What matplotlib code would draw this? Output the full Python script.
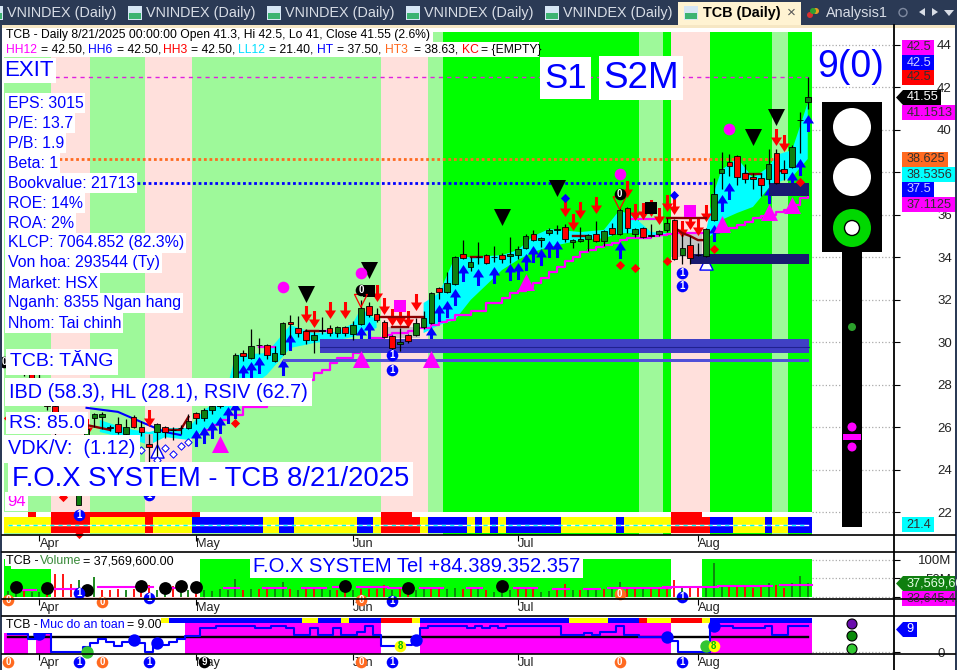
import numpy as np
import matplotlib
matplotlib.use('Agg')
import matplotlib.pyplot as plt
from matplotlib.patches import Rectangle, Circle, Polygon
from matplotlib.path import Path

plt.rcParams['font.family'] = ['Liberation Sans', 'DejaVu Sans']

W, H = 957, 670

# nen: (thanh bat dau, mau), thanh cuoi = 103
band_start = [0, 6, 11, 18, 24, 48, 54, 56, 81, 84, 85, 90, 98, 100]
band_kind = ['l', 'p', 'l', 'p', 'l', 'p', 'l', 'g', 'l', 'g', 'p', 'g', 'l', 'g']
strip_start = [0, 6, 11, 18, 19, 24, 33, 35, 37, 45, 47, 48, 53, 54, 59, 60, 61, 62, 63, 64, 71, 78, 79, 85, 90, 93, 97, 98, 100]
strip_kind = 'YRYRYBYBYBYRYBYBYBYBYBYRBYBYB'
red_top = [(3, 4), (6, 25), (48, 52), (85, 89)]

month_pos = [4, 24, 44, 65, 88]
month_names = ['Apr', 'May', 'Jun', 'Jul', 'Aug']
price_ticks = [22, 24, 26, 28, 30, 32, 34, 36, 38, 40, 42, 44]

# (than tren, than duoi, cao, thap, mau)
candles = [
    ('r', 29.3, 29.0, 29.6, 28.8), ('g', 29.2, 28.9, 29.5, 28.7), ('r', 29.0, 28.6, 29.2, 28.4), ('r', 28.6, 28.2, 28.8, 28.0),
    ('r', 28.3, 27.8, 28.5, 27.6), ('r', 27.8, 27.0, 28.0, 26.8), ('r', 27.0, 25.8, 27.1, 25.5), ('r', 24.8, 23.2, 25.0, 23.0),
    ('r', 24.9, 23.6, 25.1, 23.4), ('g', 24.2, 22.33, 24.4, 22.33), ('g', 25.9, 24.6, 26.0, 24.5), ('g', 26.6, 26.45, 26.65, 26.0),
    ('g', 26.6, 26.5, 26.7, 25.9), ('r', 26.0, 25.95, 26.1, 25.8), ('r', 26.15, 25.75, 26.5, 25.7), ('g', 26.0, 25.7, 26.4, 25.5),
    ('r', 26.5, 26.0, 26.55, 25.95), ('r', 26.0, 25.75, 26.3, 25.6), ('r', 25.2, 25.05, 25.7, 23.9), ('g', 26.15, 25.75, 26.2, 24.0),
    ('r', 26.0, 25.75, 26.05, 25.5), ('k', 25.85, 25.85, 26.0, 25.4), ('k', 25.95, 25.95, 26.1, 25.7), ('g', 26.3, 25.95, 26.6, 25.9),
    ('r', 26.65, 26.45, 26.7, 26.15), ('g', 26.8, 26.45, 26.9, 26.3), ('g', 27.0, 26.8, 27.2, 26.6), ('g', 27.4, 27.0, 27.6, 26.9),
    ('g', 27.9, 27.4, 28.0, 27.3), ('g', 29.4, 27.8, 29.5, 27.7), ('r', 29.5, 29.35, 29.65, 29.1), ('g', 29.8, 29.25, 30.6, 29.2),
    ('k', 29.85, 29.85, 30.2, 29.45), ('r', 29.85, 29.4, 29.9, 29.2), ('g', 29.5, 29.1, 29.8, 29.05), ('g', 30.9, 29.45, 30.95, 29.4),
    ('r', 30.95, 30.85, 31.3, 30.2), ('r', 30.65, 30.45, 31.25, 30.25), ('r', 30.55, 30.1, 30.6, 29.9), ('g', 30.35, 30.1, 30.55, 29.5),
    ('k', 30.55, 30.55, 31.2, 30.4), ('r', 30.65, 30.45, 30.8, 30.3), ('g', 30.7, 30.45, 30.75, 30.25), ('r', 30.7, 30.45, 30.75, 30.3),
    ('g', 30.8, 30.4, 31.0, 30.1), ('g', 31.6, 30.85, 32.0, 30.8), ('r', 31.7, 31.3, 31.9, 31.2), ('r', 31.35, 31.05, 31.6, 30.95),
    ('r', 30.95, 30.25, 31.05, 30.2), ('r', 30.3, 29.75, 30.35, 29.5), ('g', 30.0, 29.9, 30.65, 29.6), ('r', 30.35, 30.05, 30.4, 29.95),
    ('g', 30.9, 30.35, 31.15, 30.3), ('g', 31.15, 30.7, 31.45, 30.6), ('g', 32.3, 30.9, 32.35, 30.85), ('r', 32.55, 32.35, 32.6, 32.05),
    ('g', 32.8, 32.35, 33.3, 32.3), ('g', 34.0, 32.75, 34.05, 32.7), ('r', 34.15, 33.95, 34.8, 33.9), ('g', 33.8, 33.55, 34.0, 33.35),
    ('k', 34.0, 34.0, 34.7, 33.7), ('r', 34.1, 33.75, 34.15, 33.7), ('k', 34.0, 34.0, 34.55, 33.8), ('r', 34.1, 33.9, 34.2, 33.75),
    ('g', 34.15, 34.05, 34.95, 33.75), ('g', 34.4, 34.1, 34.55, 33.9), ('g', 35.0, 34.45, 35.1, 34.4), ('r', 35.1, 34.8, 35.3, 34.75),
    ('g', 34.9, 34.8, 34.95, 34.5), ('g', 35.3, 35.15, 35.4, 35.05), ('k', 35.3, 35.3, 35.5, 35.1), ('r', 35.45, 34.85, 35.55, 34.7),
    ('g', 34.8, 34.7, 34.85, 34.45), ('g', 34.85, 34.75, 35.45, 34.7), ('g', 35.05, 34.85, 35.1, 34.3), ('r', 35.1, 34.75, 35.7, 34.7),
    ('g', 35.25, 34.75, 35.3, 34.55), ('r', 35.4, 35.1, 35.6, 35.05), ('g', 36.25, 35.1, 36.3, 35.05), ('r', 36.3, 35.4, 36.35, 35.15),
    ('g', 35.35, 35.1, 35.4, 34.95), ('r', 35.4, 34.95, 35.45, 34.9), ('k', 35.0, 35.0, 35.55, 34.95), ('g', 35.25, 35.1, 35.3, 35.0),
    ('g', 35.6, 35.3, 35.85, 35.2), ('r', 35.75, 33.9, 35.8, 33.85), ('g', 34.45, 34.1, 35.1, 33.7), ('r', 34.6, 33.95, 35.0, 33.7),
    ('k', 34.1, 34.1, 34.65, 34.05), ('g', 35.35, 34.05, 35.4, 34.0), ('g', 37.0, 35.75, 37.75, 35.7), ('g', 38.15, 37.95, 38.95, 37.2),
    ('r', 38.5, 38.3, 38.85, 37.85), ('r', 38.75, 37.8, 38.8, 37.4), ('r', 37.95, 37.7, 38.4, 37.5), ('r', 37.8, 37.7, 37.95, 37.2),
    ('r', 37.75, 37.4, 37.95, 36.9), ('g', 38.4, 37.7, 39.1, 37.45), ('r', 38.9, 37.5, 39.1, 37.45), ('r', 38.18, 37.95, 38.6, 37.65),
    ('g', 39.18, 38.23, 39.3, 38.2), ('k', 40.45, 40.45, 40.83, 38.9), ('g', 41.55, 41.3, 42.5, 41.0),
]

cloud_x = [11.7, 13.6, 16, 18, 20, 23, 25, 27.7, 29, 33, 36, 39, 42, 44, 45, 47, 48, 53, 55, 57, 59, 63, 65, 67, 69, 73, 76, 78, 80, 82, 84, 85, 89, 90, 91, 93, 95, 97, 98, 100, 102]
cloud_top = [26.34, 26.1, 25.87, 25.77, 25.96, 25.96, 26.8, 27.5, 29.4, 29.49, 30.81, 30.43, 30.48, 30.9, 31.6, 31.05, np.nan, 31.85, 32.32, 34.01, 34.01, 34.1, 34.34, 35.0, 35.33, 35.19, 35.29, 36.23, 35.85, 35.19, 35.14, np.nan, 35.19, 37.03, 38.11, 38.68, 37.74, 38.25, 38.82, 39.05, 41.27]
cloud_bot = [25.77, 25.6, 25.4, 25.16, 25.53, 25.4, 25.87, 26.34, 27.37, 28.46, 29.73, 29.96, 30.1, 30.25, 30.43, 30.67, np.nan, 30.43, 30.81, 31.05, 31.99, 33.4, 33.87, 34.25, 34.49, 34.81, 34.9, 35.14, 35.14, 35.0, 35.0, np.nan, 34.81, 35.14, 35.76, 36.09, 36.37, 37.26, 37.5, 37.78, 38.63]

grey_x = [[17.5, 18.5], [48, 52.5], [84.5, 88.5]]
grey_top = [25.7, 30.72, 35.14]
grey_bot = [25.0, 30.2, 34.0]

ma_x = [25, 26, 27, 28, 30, 33, 36, 38] + list(range(39, 103))
ma_y = [25.87, 26.1, 26.34, 26.57, 26.95, 27.04, 27.37, 28.2,
        28.55, 28.69, 29.02, 29.26, 29.26, 29.49, 29.63, 30.2, 30.2, 30.34, 30.43, 30.43, 30.53, 30.67, 30.67, 30.81,
        30.95, 31.05, 31.28, 31.28, 31.47, 31.47, 31.85, 31.85, 32.08, 32.32, 32.41, 32.6, 32.79, 33.03, 33.31, 33.54,
        33.83, 34.01, 34.25, 34.34, 34.49, 34.58, 34.67, 34.81, 34.91, 34.91, 34.91, 35.0, 35.05, 35.1, 35.14, 35.14,
        35.14, 35.14, 35.19, 35.19, 35.29, 35.38, 35.52, 35.66, 35.85, 35.95, 36.0, 36.13, 36.23, 36.46, 36.79, 36.84]

darkred_lines = [
    ([10, 13], [26.1, 25.87]), ([20, 22, 23], [25.87, 25.87, 26.48]), ([38, 39.5], [30.53, 30.53]),
    ([47, 53], [31.19, 31.19]), ([49, 51], [30.72, 30.72]), ([59, 60.5], [34.01, 34.01]), ([72, 74], [35.0, 35.0]),
    ([84, 89], [35.85, 35.85]), ([85, 86, 87, 88, 89], [35.4, 35.14, 35.0, 34.81, 34.81]), ([94, 96], [37.92, 37.92]), ([98, 99], [38.06, 38.06]),
]
magenta_lines = [([32, 34], [29.77, 29.77]), ([38, 41], [30.55, 30.55]), ([79, 83], [35.8, 35.8])]
blue_line_x = [10, 14, 17, 20, 22]
blue_line_y = [26.91, 26.72, 26.24, 25.77, 25.63]

up_x = [24, 25, 26, 27, 28, 29, 30, 31, 32, 35, 36, 45, 46, 54, 55, 56, 57, 58, 60, 62, 64, 65, 66, 67, 68, 69, 70, 78, 90, 91, 92, 97, 100, 101, 102]
up_y = [25.49, 25.63, 25.87, 26.1, 26.57, 26.81, 28.55, 28.69, 28.93, 28.83, 30.01, 30.34, 30.58, 30.34, 31.38, 31.56, 32.13, 33.26, 33.07, 33.17, 33.31, 33.35, 33.78, 34.16, 34.01, 34.39, 34.39, 34.34, 35.14, 36.56, 37.12, 36.93, 37.64, 38.25, 40.33]
down_x = [10, 18, 38, 39, 41, 43, 47, 48, 49, 50, 51, 52, 71, 72, 73, 75, 79, 80, 81, 82, 83, 84, 85, 86, 87, 88, 89, 98, 99]
down_y = [26.01, 26.43, 31.33, 31.09, 31.52, 31.52, 32.32, 31.71, 31.19, 31.19, 31.09, 31.89, 36.32, 35.66, 36.23, 36.46, 37.22, 36.13, 36.18, 36.32, 35.95, 36.56, 36.42, 35.33, 35.71, 35.43, 36.09, 39.67, 39.38]
red_dia_x = [0, 7, 9, 29, 78, 80, 84, 90, 101]
red_dia_y = [26.43, 22.71, 20.95, 26.19, 33.64, 33.5, 33.83, 34.39, 37.55]
blue_dia_x = [71, 85]
blue_dia_y = [36.79, 36.93]
hollow_dia_x = [17, 19, 20, 21, 22, 23]
hollow_dia_y = [24.92, 24.45, 25.02, 24.73, 25.11, 25.3]
hollow_tri_x = [19, 89]
hollow_tri_y = [24.88, 33.73]
mag_tri_x = [27, 45, 54, 66, 91, 97, 100]
mag_tri_y = [25.21, 29.21, 29.21, 32.84, 35.57, 36.13, 36.46]
blk_tri_x = [38, 46, 63, 70, 95, 98]
blk_tri_y = [32.27, 33.4, 35.9, 37.26, 39.67, 40.61]
mag_dot_x = [35, 45, 78, 92]
mag_dot_y = [32.6, 33.26, 37.92, 40.04]
mag_sq_x = [50, 87]
mag_sq_y = [31.71, 36.18]
blk_sq_x = [46, 82]
blk_sq_y = [32.41, 36.32]
red_v_x = [45, 78]
red_v_y = [31.95, 36.55]

badge_price = [(-0.5, 29.07, '0', 'k'), (45, 32.46, '0', 'k'), (78, 36.98, '0', 'k'), (9, 21.86, '1', 'b'), (18, 22.8, '1', 'b'),
               (49, 29.4, '1', 'b'), (49, 28.69, '1', 'b'), (86, 33.26, '1', 'b'), (86, 32.65, '1', 'b')]

volume = [16, 18, 18, 13.5, 13.5, 9, 63, 63, 36, 45, 18, 54, 18, 18, 21, 18, 21, 18, 33, 18,
          13.5, 30, 18, 18, 18, 18, 15, 22.5, 18, 49.5, 18, 22.5, 22.5, 22.5, 22.5, 40, 22.5, 18, 22.5, 22.5,
          22.5, 18, 18, 13.5, 18, 22.5, 22.5, 22.5, 31.5, 18, 22.5, 13.5, 18, 24, 24, 22.5, 22.5, 24, 21, 22.5,
          27, 18, 13.5, 18, 18, 22.5, 24, 24, 13.5, 15, 22.5, 36, 18, 18, 24, 22.5, 22.5, 21, 40.5, 22.5,
          27, 24, 22.5, 22.5, 22.5, 47, 31, 29, 24, 24, 92, 31, 33, 33, 29, 24, 33, 38, 33, 24, 38, 56, 37.6]
vol_col = 'ggrggrrrrg' 'rgrrrgrrrg' 'grggrggggg' 'rgrrggrgrr' 'ggrrgrrrrg' 'rrggrrggrr' 'grgggrrrgg' 'rrgrggrggr' 'rgrrrrgrrg' 'ggrrrrrgrr' 'ggg'
vol_avg = [(2, 3, 18), (6, 9, 21), (12, 18, 27), (21, 22, 24), (28, 29, 24), (33, 35, 24), (38, 40, 24), (42, 43, 27), (45, 46, 27), (47, 48, 27),
           (49, 50, 24), (53, 55, 24), (59, 60, 24), (65, 67, 24), (70, 71, 22), (74, 75, 21), (77, 84, 24), (84, 90, 27), (91, 97, 31), (99, 102, 33)]
vol_green = [(0, 6, 75), (25, 85, 103), (89, 103, 103)]
vol_dots_x = [1, 5, 10, 17, 20, 22, 24, 43, 51, 63]
vol_dots_y = [27, 24, 19, 30, 24, 30, 27, 30, 24, 30]
badge_vol = [(0, -8, '0', 'o'), (9, 11, '1', 'b'), (12, -13, '0', 'o'), (18, -3, '1', 'b'), (45, -8, '0', 'o'), (49, -11, '1', 'b'), (78, 8, '0', 'o'), (86, 0, '1', 'b')]

safety = [7, 7, 7, 5, 7.3, 7.3, 0.1, 0.1, 0.1, 0.1, 2, 3.4, 5, 4, 2.4, 4, 3.4, 3.4, 0.1, 2.7,
          2.7, 4, 5, 6.3, 6.3, 9.3, 9.3, 10, 10, 10, 10, 10, 9.3, 9.3, 10, 10, 9.3, 6.7, 6.7, 9.3,
          6.7, 6.7, 9.3, 6.7, 6.7, 8, 10, 6.7, 2.4, 2.4, 2.4, 2.7, 5, 9.3, 10, 10, 10, 10, 10, 9.3,
          10, 9.3, 10, 9.3, 10, 10, 10, 10, 10, 10, 10, 6.7, 6.7, 6.7, 7.5, 6.7, 7.8, 7.8, 10, 6.7,
          6.7, 6, 6, 6, 6, 4.5, 0.1, 0.1, 0.1, 0.1, 10.2, 10.2, 10.2, 9.3, 9.3, 9.3, 9.3, 10.2, 6.7, 6.7,
          10.2, 10.2, 10.2]
safe_zones = [(0, 3, 7.45), (4, 6, 7.45), (23, 48, 11.4), (53, 85, 11.4), (90, 103, 11.4)]
safe_strip_start = [20, 21, 38, 40, 43, 44, 48, 52, 53, 72, 77, 81, 82, 85, 89, 90]
safe_strip_kind = 'YBYBYBRYBYBRYRYB'
safe_end = 103
safe_blue_x = [4, 16, 19, 52, 84, 90]
safe_blue_y = [7, 4.7, 3.5, 4.7, 5.9, 10.2]
safe_green_x = [10, 89]
safe_green_y = [0, 2.4]
safe_yellow_x = [50, 90]
safe_yellow_y = [2.4, 2.4]
badge_safe = [(0, '0', 'o'), (9, '1', 'b'), (12, '0', 'o'), (18, '1', 'b'), (25, '9', 'k'), (45, '0', 'o'), (49, '1', 'b'), (78, '0', 'o'), (86, '1', 'b')]

COL = {'l': '#9ef99a', 'p': '#ffe0dc', 'g': '#00ff00', 'Y': '#ffff00', 'R': '#ff0000', 'B': '#0000ff'}
BLUE = '#0000ff'


def pane(top, bottom, ylim):
    ax = fig.add_axes([2 / W, 1 - bottom / H, 892 / W, (bottom - top) / H])
    ax.set_xlim(-0.78, 113)
    ax.set_ylim(*ylim)
    for s in ax.spines.values():
        s.set_visible(False)
    ax.patch.set_alpha(0)
    ax.set_xticks(month_pos)
    ax.set_xticklabels(month_names, ha='left', fontsize=9.2, color='#222222')
    ax.tick_params(axis='x', length=4, width=0.8, pad=-1.5)
    ax.yaxis.tick_right()
    return ax


def runs(ax, starts, kinds, end, bottom, top, zorder=0):
    edges = list(starts) + [end]
    for n, k in enumerate(kinds):
        ax.bar(edges[n] - 0.5, top - bottom, width=edges[n + 1] - edges[n], bottom=bottom, align='edge', color=COL[k], lw=0, zorder=zorder)


def badge(ax, x, y, txt, kind, zorder=8):
    col = {'b': BLUE, 'o': '#ff6a20', 'k': 'black', 'y': '#ffff00'}[kind]
    ax.scatter([x], [y], s=70, color=col, zorder=zorder, clip_on=False, linewidths=0)
    ax.text(x, y, txt, color='#00c000' if kind == 'y' else 'white', fontsize=7, fontweight='bold', ha='center', va='center', zorder=zorder + 1, clip_on=False)


up_arrow = Path([(-0.18, -1), (0.18, -1), (0.18, 0), (0.65, 0), (0, 1), (-0.65, 0), (-0.18, 0), (-0.18, -1)], closed=True)
down_arrow = Path([(-0.18, 1), (0.18, 1), (0.18, 0), (0.65, 0), (0, -1), (-0.65, 0), (-0.18, 0), (-0.18, 1)], closed=True)

fig = plt.figure(figsize=(W / 100, H / 100), dpi=100, facecolor='white')

# ---- gia ----
ax = pane(28, 535, (20.92, 44.8))
ax.set_yticks(price_ticks)
ax.set_yticklabels([str(t) for t in price_ticks], ha='left', fontsize=9.5, color='#222222')
ax.tick_params(axis='y', length=4, width=0.8, pad=27)
runs(ax, band_start, band_kind, 103, 20.9, 44.61)
ax.bar(-0.5, 0.23, width=103, bottom=21.77, align='edge', color='white', lw=0, zorder=0.2)
for a, b in red_top:
    ax.bar(a - 0.5, 0.23, width=b - a, bottom=21.77, align='edge', color=COL['R'], lw=0, zorder=0.3)
runs(ax, strip_start, strip_kind, 103, 21.01, 21.77, zorder=0.4)
ax.plot([0, 102], [21.39, 21.39], color='white', lw=1, zorder=0.5)
ax.plot([0, 102], [21.39, 21.39], color='#00ffff', lw=1, ls=(0, (3, 3)), zorder=0.6)
ax.hlines(price_ticks, 102.6, 113, color='#aaaaaa', lw=0.9, ls=':', zorder=0.1)

ax.fill_between(cloud_x, cloud_bot, cloud_top, color='#00ffff', lw=0, zorder=1)
for xs, t, b in zip(grey_x, grey_top, grey_bot):
    ax.fill_between(xs, b, t, color='#c4c4c4', lw=0, zorder=1)
ax.step(ma_x, ma_y, where='post', color='#ff00ff', lw=1.6, zorder=2)
for xs, ys in magenta_lines:
    ax.plot(xs, ys, color='#ff00ff', lw=1.6, zorder=2)
ax.plot(blue_line_x, blue_line_y, color=BLUE, lw=1.5, zorder=2)

ax.plot([6, 102], [42.5, 42.5], color='#e020e0', lw=1, ls=(0, (3, 3)), zorder=2)
ax.plot([6.5, 98.5], [38.625, 38.625], color='#ff6a20', lw=2, ls=(0, (1, 1)), zorder=2)
ax.plot([16.5, 90], [37.5, 37.5], color=BLUE, lw=2, ls=(0, (1, 1)), zorder=2)

ax.scatter(up_x, up_y, marker=up_arrow, s=150, color=BLUE, lw=0, zorder=3)
ax.scatter(down_x, down_y, marker=down_arrow, s=150, color='#ff0000', lw=0, zorder=3)

# vung ho tro
ax.bar(39.8, 0.66, width=62.3, bottom=29.49, align='edge', color='#4040c4', lw=0, zorder=4)
ax.plot([39.8, 102.1], [29.77, 29.77], color='#202090', lw=0.8, zorder=4)
ax.bar(35, 0.14, width=67.1, bottom=29.07, align='edge', color='#5050d8', lw=0, zorder=4)
ax.bar(87, 0.48, width=15.1, bottom=33.68, align='edge', color='#191970', lw=0, zorder=4)
ax.bar(97, 0.61, width=5.1, bottom=36.89, align='edge', color='#191970', lw=0, zorder=4)

ax.scatter(blk_sq_x, blk_sq_y, marker='s', s=75, color='black', lw=0, zorder=4.5)
for xs, ys in darkred_lines:
    ax.plot(xs, ys, color='#8b0000', lw=1.7, zorder=4.6)

# nen
for n, (c, t, b, hi, lo) in enumerate(candles):
    ax.vlines(n, lo, hi, color='black', lw=0.9, zorder=5)
    fc = {'g': '#0f7f0f', 'r': '#ff0000', 'k': 'black'}[c]
    ax.bar(n, max(t - b, 0.03), width=0.72, bottom=b, color=fc, edgecolor='black', lw=0.6, zorder=5.1)

ax.scatter(red_dia_x, red_dia_y, marker='D', s=22, color='#ff0000', lw=0, zorder=6, clip_on=False)
ax.scatter(blue_dia_x, blue_dia_y, marker='D', s=22, color=BLUE, lw=0, zorder=6)
ax.scatter(hollow_dia_x, hollow_dia_y, marker='D', s=14, facecolor='white', edgecolor=BLUE, lw=0.7, zorder=6)
ax.scatter(hollow_tri_x, hollow_tri_y, marker='^', s=90, facecolor='white', edgecolor=BLUE, lw=1, zorder=3.5)
ax.scatter(mag_tri_x, mag_tri_y, marker='^', s=150, color='#ff00ff', lw=0, zorder=6)
ax.scatter(blk_tri_x, blk_tri_y, marker='v', s=150, color='black', lw=0, zorder=6)
ax.scatter(mag_dot_x, mag_dot_y, marker='o', s=70, color='#ff00ff', lw=0, zorder=6)
ax.scatter(mag_sq_x, mag_sq_y, marker='s', s=80, color='#ff00ff', lw=0, zorder=4.7)
ax.scatter(red_v_x, red_v_y, marker='v', s=85, facecolor='none', edgecolor='#ff0000', lw=0.9, zorder=6)
for x, y, t, k in badge_price:
    badge(ax, x, y, t, k)

# ---- khoi luong ----
av = pane(552, 599, (-5.4, 121.6))
av.set_yticks([0, 50, 100])
av.set_yticklabels(['', '50M', '100M'], ha='right', fontsize=9.5, color='#222222')
av.tick_params(axis='y', length=4, width=0.8, pad=37)
for a, b, h in vol_green:
    av.bar(a - 0.5, h, width=b - a, align='edge', color='#00ff00', lw=0, zorder=0)
av.bar(0 - 0.5, 103, width=0.9, align='edge', color='#00ff00', lw=0, zorder=0)
av.hlines([0, 50, 100], 102.6, 113, color='#aaaaaa', lw=0.9, ls=':', zorder=0.1)
av.plot([5.5, 25], [-1.5, -1.5], color='#8b0000', lw=1, zorder=1)
av.plot([25, 102], [-1.5, -1.5], color='#00cc00', lw=1, zorder=1)
for n, (v, c) in enumerate(zip(volume, vol_col)):
    av.vlines(n, 0, v, color='#ff0000' if c == 'r' else '#0f7f0f', lw=1.3, zorder=2)
for a, b, v in vol_avg:
    av.plot([a - 0.5, b + 0.5], [v, v], color='#ff00ff', lw=1.5, zorder=3)
av.scatter(vol_dots_x, vol_dots_y, s=85, color='black', lw=0, zorder=4)
for x, y, t, k in badge_vol:
    badge(av, x, y, t, k)

# ---- muc do an toan ----
at = pane(616, 654, (-0.78, 14.1))
at.set_yticks([0])
at.set_yticklabels(['0'], ha='left', fontsize=9.5, color='#222222')
at.tick_params(axis='y', length=4, width=0.8, pad=27)
for a, b, top in safe_zones:
    at.bar(a - 0.5, top + 0.78, width=b - a, bottom=-0.78, align='edge', color='#ff00ff', lw=0, zorder=0)
runs(at, safe_strip_start, safe_strip_kind, safe_end, 11.4, 13.4, zorder=0.5)
at.hlines([0], 102.6, 113, color='#aaaaaa', lw=0.9, ls=':', zorder=0.1)
at.plot([0, 102], [5.9, 5.9], color='black', lw=1.7, zorder=1)
at.step(range(len(safety)), safety, where='mid', color=BLUE, lw=1.5, zorder=2)
at.scatter(safe_blue_x, safe_blue_y, s=80, color=BLUE, lw=0, zorder=3)
at.scatter(safe_green_x, safe_green_y, s=80, color='#33c533', lw=0, zorder=3, clip_on=False)
for x, y in zip(safe_yellow_x, safe_yellow_y):
    badge(at, x, y, '8', 'y')
for x, t, k in badge_safe:
    badge(at, x, -3.9, t, k)

# ---- lop phu: toa do pixel ----
ov = fig.add_axes([0, 0, 1, 1], zorder=10)
ov.set_xlim(0, W)
ov.set_ylim(H, 0)
ov.axis('off')
ov.patch.set_alpha(0)


def rect(x0, y0, x1, y1, color, z=1):
    ov.add_patch(Rectangle((x0, y0), x1 - x0, y1 - y0, fc=color, ec='none', zorder=z))


def txt(x, y, s, size, color='black', box=None, **kw):
    bbox = None if box is None else dict(fc='white', ec='none', pad=box)
    ov.text(x, y, s, fontsize=size, color=color, va='center', ha=kw.pop('ha', 'left'), bbox=bbox, zorder=kw.pop('z', 3), **kw)


# tab
NAVY = '#2b3a55'
rect(0, 0, W, 25, NAVY)
rect(0, 25, W, 28, '#f6e7c4')
rect(0, 25, 2, H, NAVY)
rect(955, 25, W, H, NAVY)
for x in [7, 146, 285, 424, 563]:
    txt(x, 13.5, 'VNINDEX (Daily)', 10.4, '#d8dde6', z=2)
    rect(x - 18, 6, x - 4, 20, '#d6e6f4', z=2)
    rect(x - 17, 13, x - 5, 19, '#3cb371', z=2)
rect(678, 2, 801, 25, '#fff3d2', z=2)
rect(684, 6, 698, 20, '#d6e6f4', z=2)
rect(685, 13, 697, 19, '#3cb371', z=2)
txt(703, 13.5, 'TCB (Daily)', 10.4, 'black', fontweight='bold')
txt(791, 13, '×', 11, '#555555', ha='center')
for cx, cy, c in [(810, 15, '#d93030'), (816, 11, '#e8a020'), (813, 11, '#30a030')]:
    ov.add_patch(Circle((cx, cy), 3, fc=c, ec='none', zorder=3))
txt(826, 13.5, 'Analysis1', 10.4, '#d8dde6')
ov.add_patch(Circle((903, 12.5), 4, fc='none', ec='#7f8aa0', lw=1, zorder=3))
ov.add_patch(Polygon([(919, 12), (925, 8), (925, 16)], fc='#d8dde6', ec='none', zorder=3))
ov.add_patch(Polygon([(938, 12), (932, 8), (932, 16)], fc='#d8dde6', ec='none', zorder=3))
ov.add_patch(Polygon([(944, 10), (954, 10), (949, 16)], fc='#d8dde6', ec='none', zorder=3))

# khung
ov.plot([894, 894], [25, H], color='black', lw=1.3, zorder=2)
for y in [535, 552, 599, 616, 654]:
    ov.plot([2, 955], [y, y], color='black', lw=1.2, zorder=2)

# tieu de
rect(4, 29, 433, 42, 'white', z=1.5)
rect(4, 42, 539, 57, 'white', z=1.5)
txt(6, 35, 'TCB - Daily 8/21/2025 00:00:00 Open 41.3, Hi 42.5, Lo 41, Close 41.55 (2.6%)', 8.75)
for x, s, c in [(6, 'HH12', '#ff00ff'), (41, '= 42.50,', 'black'), (88, 'HH6', BLUE), (117, '= 42.50,', 'black'),
                (163, 'HH3', '#ff0000'), (191, '= 42.50,', 'black'), (238, 'LL12', '#00e0ff'), (269, '= 21.40,', 'black'),
                (317, 'HT', BLUE), (337, '= 37.50,', 'black'), (385, 'HT3', '#ff6a20'), (414, '= 38.63,', 'black'),
                (462, 'KC', '#ff0000'), (481, '= {EMPTY}', 'black')]:
    txt(x, 50, s, 8.75, c)

txt(4, 70, 'EXIT', 16, BLUE, box=1.5)
info = ['EPS: 3015', 'P/E: 13.7', 'P/B: 1.9', 'Beta: 1', 'Bookvalue: 21713', 'ROE: 14%', 'ROA: 2%', 'KLCP: 7064.852 (82.3%)',
        'Von hoa: 293544 (Ty)', 'Market: HSX', 'Nganh: 8355 Ngan hang', 'Nhom: Tai chinh']
for n, s in enumerate(info):
    txt(7.5, 103 + 20 * n, s, 11.45, BLUE, box=1.5)
txt(544, 78, 'S1', 25, BLUE, box=3)
txt(603, 78, 'S2M', 26.5, BLUE, box=3)
txt(851, 67, '9(0)', 27, BLUE, ha='center')

txt(10, 362, 'TCB: TĂNG', 14, BLUE, box=3)
txt(9, 392, 'IBD (58.3), HL (28.1), RSIV (62.7)', 14.3, BLUE, box=3)
txt(9, 423, 'RS: 85.0', 14, BLUE, box=2)
txt(8, 449, 'VDK/V:  (1.12)', 14.3, BLUE, box=3)
txt(12, 479, 'F.O.X SYSTEM - TCB 8/21/2025', 19.7, BLUE, box=2.5)
txt(7, 501, '94', 12, '#ff00ff', box=1.5, z=2.5)

# title volume / an toan
rect(5, 554, 175, 566, 'white', z=0.5)
for x, s, c in [(6, 'TCB - ', 'black'), (40, 'Volume', '#3a8a3a'), (83, '= 37,569,600.00', 'black')]:
    txt(x, 561.5, s, 9, c)
txt(253, 566, 'F.O.X SYSTEM Tel +84.389.352.357', 14.5, BLUE, box=2)
rect(5, 618, 161, 633, 'white', z=0.5)
for x, s, c in [(6, 'TCB - ', 'black'), (40, 'Muc do an toan', BLUE), (127, '= 9.00', 'black')]:
    txt(x, 625.5, s, 8.8, c)

# den tin hieu
rect(822, 102, 882, 252, 'black')
rect(842, 252, 862, 527, 'black')
for cy in [127, 177]:
    ov.add_patch(Circle((852, cy), 19, fc='white', ec='none', zorder=2))
ov.add_patch(Circle((852, 228), 19, fc='#00d800', ec='none', zorder=2))
ov.add_patch(Circle((852, 228), 7.5, fc='white', ec='black', lw=1, zorder=2.1))
ov.add_patch(Circle((852, 327), 4, fc='#2ca02c', ec='none', zorder=2))
ov.add_patch(Circle((852, 427), 4.5, fc='#ff00ff', ec='none', zorder=2))
rect(843, 434, 861, 440, '#ff00ff', z=2)
ov.add_patch(Circle((852, 447), 4.5, fc='#ff00ff', ec='none', zorder=2))
for cy, c in [(624, '#6a0dad'), (636, '#0a8a0a'), (649, '#32c832')]:
    ov.add_patch(Circle((852, cy), 5, fc=c, ec='black', lw=0.8, zorder=2))

# nhan gia ben phai
tags = [(40, 934, '#ff00ff', '42.5', '#303030'), (55, 934, BLUE, '42.5', '#d0d0ff'), (70, 934, '#ff0000', '42.5', '#303030'),
        (105, 955, '#ff00ff', '41.1513', '#303030'), (152, 948, '#ff6a20', '38.625', '#303030'), (167, 955, '#00ffff', '38.5356', '#303030'),
        (182, 934, BLUE, '37.5', '#d0d0ff'), (197, 955, '#ff00ff', '37.1125', '#303030'), (517, 934, '#00ffff', '21.4', '#303030'),
        (591, 955, '#ff00ff', '33,645,41', '#303030')]
for y, x1, bg, s, c in tags:
    rect(902, y, x1, y + 15, bg)
    txt(906.5, y + 7.5, s, 9.2, c)
for (x1, y, bg, s, c) in [(941, 90, 'black', '41.55', 'white'), (955, 576, '#0f7f0f', '37,569,60', '#e8ffe8'), (917, 622, BLUE, '9', 'white')]:
    ov.add_patch(Polygon([(896, y + 7.5), (903, y), (x1, y), (x1, y + 15), (903, y + 15)], fc=bg, ec='none', zorder=1))
    txt(906.5, y + 7.5, s, 9.2, c)

fig.savefig('out.png', dpi=100)
